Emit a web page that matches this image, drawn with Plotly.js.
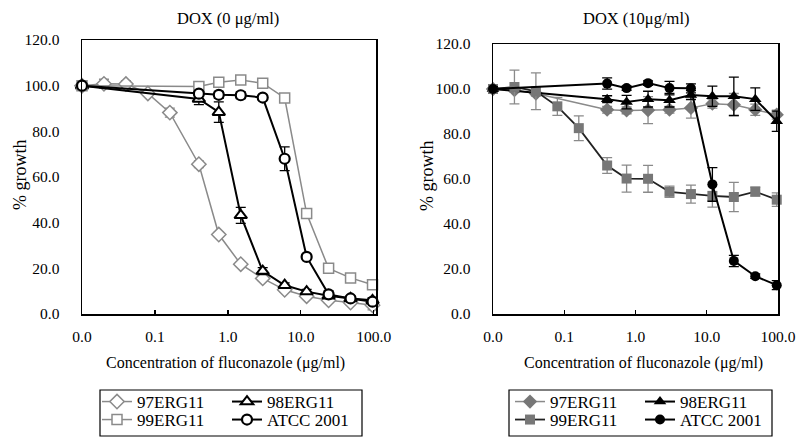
<!DOCTYPE html>
<html>
<head>
<meta charset="utf-8">
<script src="https://cdn.plot.ly/plotly-3.0.1.min.js"></script>
<style>html,body{margin:0;padding:0;background:#fff;}</style>
</head>
<body>
<div id="chart" style="width:800px;height:444px;"></div>
<script>
// Concentrations (µg/ml); 0.01 stands for the 0 (no drug) point on the log axis
const concAll = [0.01, 0.02, 0.04, 0.08, 0.16, 0.4, 0.75, 1.5, 3, 6, 12, 24, 48, 96];
const concMain = [0.01, 0.4, 0.75, 1.5, 3, 6, 12, 24, 48, 96];
const conc97dox10 = [0.01, 0.02, 0.04, 0.4, 0.75, 1.5, 3, 6, 12, 24, 48, 96];

const tickVals = [0.01, 0.1, 1, 10, 100];
const tickText = ['0.0', '0.1', '1.0', '10.0', '100.0'];
const seriesNames = ['97ERG11', '98ERG11', '99ERG11', 'ATCC 2001'];

// DOX 0 µg/ml
const d0_97 = [100, 100.8, 100.7, 96.6, 88.2, 65.6, 34.8, 21.8, 15.6, 10.6, 7.8, 6.0, 5.0, 3.8];
const d0_97err = [1, 2, 1.5, 1, 2, 1.5, 1, 1, 1, 1, 1, 1, 1, 2];
const d0_98 = [100, 94.2, 88.4, 43.2, 18.8, 12.6, 9.8, 8.0, 6.8, 6.0];
const d0_98err = [1, 2.5, 4.5, 3.5, 1.5, 1, 1, 1, 1, 1];
const d0_99 = [100, 99.6, 101.5, 102.5, 101.1, 94.6, 44.0, 20.0, 15.8, 12.8];
const d0_99err = [1, 1, 1, 1, 1, 1, 1, 1, 1, 1];
const d0_atcc = [100, 96.5, 96.0, 95.8, 94.8, 68.0, 25.0, 8.6, 6.8, 5.4];
const d0_atccErr = [1, 1, 1.5, 1.5, 1, 5.2, 1, 1.5, 1, 1];

// DOX 10 µg/ml
const d10_97 = [100, 99.5, 98.0, 90.8, 90.5, 90.6, 90.8, 91.6, 93.5, 93.0, 90.8, 88.6];
const d10_97err = [1, 1, 1, 1.5, 1.5, 6, 1.5, 4.5, 2, 5, 2.5, 2];
const d10_98 = [100, 95.5, 94.2, 95.5, 95.0, 97.3, 96.8, 96.8, 95.5, 85.7];
const d10_98err = [1, 1.5, 3, 3.5, 3, 2, 4.5, 8.5, 5, 4.5];
const d10_99 = [100, 100.9, 99.0, 92.3, 82.6, 66.0, 60.2, 60.1, 54.3, 53.3, 52.5, 52.0, 54.4, 50.8];
const d10_99err = [1, 7.5, 8.2, 4, 5.5, 3.5, 6, 6, 2.5, 4, 5, 6.5, 2, 3];
const d10_atcc = [100, 102.4, 100.4, 102.6, 100.4, 100.3, 57.6, 23.6, 16.8, 12.8];
const d10_atccErr = [1, 2.5, 1, 1, 3, 2, 7.5, 2.5, 1, 2];

const FONT = '"Liberation Serif", "Times New Roman", serif';
const GRAY = '#8a8a8a';
const GRAY2 = '#777777';

function tr(x, y, err, name, xa, ya, lineColor, lineW, symbol, mSize, mColor, mLineColor, mLineW, errColor, legendId) {
  return {
    type: 'scatter', mode: 'lines+markers', x: x, y: y, name: name,
    xaxis: xa, yaxis: ya, legend: legendId, cliponaxis: false,
    line: {color: lineColor, width: lineW},
    marker: {symbol: symbol, size: mSize, color: mColor, line: {color: mLineColor, width: mLineW}},
    error_y: {type: 'data', array: err, visible: true, color: errColor, thickness: 1.3, width: 5}
  };
}

const traces = [
  tr(concAll, d0_97, d0_97err, seriesNames[0], 'x', 'y', GRAY, 1.5, 'diamond', 11, '#fff', GRAY, 1.5, GRAY, 'legend'),
  tr(concMain, d0_98, d0_98err, seriesNames[1], 'x', 'y', '#000', 2, 'triangle-up', 11, '#fff', '#000', 2, '#000', 'legend2'),
  tr(concMain, d0_99, d0_99err, seriesNames[2], 'x', 'y', GRAY, 1.5, 'square', 10, '#fff', GRAY, 1.5, GRAY, 'legend3'),
  tr(concMain, d0_atcc, d0_atccErr, seriesNames[3], 'x', 'y', '#000', 2, 'circle', 10, '#fff', '#000', 2.2, '#000', 'legend4'),
  tr(conc97dox10, d10_97, d10_97err, seriesNames[0], 'x2', 'y2', GRAY, 1.5, 'diamond', 11, GRAY2, GRAY2, 0, GRAY, 'legend5'),
  tr(concMain, d10_98, d10_98err, seriesNames[1], 'x2', 'y2', '#000', 2, 'triangle-up', 11, '#000', '#000', 0, '#000', 'legend6'),
  tr(concAll, d10_99, d10_99err, seriesNames[2], 'x2', 'y2', '#222', 1.8, 'square', 10, GRAY2, GRAY2, 0, GRAY, 'legend7'),
  tr(concMain, d10_atcc, d10_atccErr, seriesNames[3], 'x2', 'y2', '#000', 2, 'circle', 10, '#000', '#000', 0, '#000', 'legend8')
];

const W = 800, H = 444;
const px = v => v / W;
const py = v => 1 - v / H;

function xAxis(d0, d1, r1, anchor) {
  return {
    type: 'log', domain: [px(d0), px(d1)], range: [-2, r1], anchor: anchor,
    tickvals: tickVals, ticktext: tickText, ticks: 'inside', ticklen: 4, tickwidth: 1.2, tickcolor: '#000',
    showline: true, mirror: true, linecolor: '#000', linewidth: 1.5,
    showgrid: false, zeroline: false, ticklabelstandoff: 8,
    tickfont: {family: FONT, size: 15.5, color: '#000'}
  };
}
function yAxis(top, anchor) {
  return {
    domain: [py(314), py(top)], range: [0, 120], dtick: 20, tick0: 0, tickformat: '.1f', anchor: anchor,
    ticks: '', showline: true, mirror: true, linecolor: '#000', linewidth: 1.5,
    showgrid: false, zeroline: false, ticklabelstandoff: 18,
    tickfont: {family: FONT, size: 15.5, color: '#000'}
  };
}

function leg(xp, yp) {
  return {x: px(xp), y: py(yp), xanchor: 'left', yanchor: 'middle', bgcolor: 'rgba(0,0,0,0)',
    borderwidth: 0, font: {family: FONT, size: 17, color: '#000'}, itemclick: false};
}

function ann(text, x, y, size, angle) {
  return {text: text, x: px(x), y: py(y), xref: 'paper', yref: 'paper', xanchor: 'center', yanchor: 'middle',
    showarrow: false, textangle: angle || 0, font: {family: FONT, size: size, color: '#000'}};
}

const layout = {
  width: W, height: H,
  margin: {l: 0, r: 0, t: 0, b: 0},
  paper_bgcolor: '#fff', plot_bgcolor: '#fff',
  font: {family: FONT, color: '#000', size: 15},
  showlegend: true,
  xaxis: xAxis(82, 376, 2.03, 'y'),
  yaxis: yAxis(40, 'x'),
  xaxis2: xAxis(493, 778, 2.0, 'y2'),
  yaxis2: yAxis(44, 'x2'),
  legend: leg(97, 402),
  legend2: leg(227, 402),
  legend3: leg(97, 420),
  legend4: leg(227, 420),
  legend5: leg(510, 402),
  legend6: leg(640, 402),
  legend7: leg(510, 420),
  legend8: leg(640, 420),
  shapes: [
    {type: 'rect', xref: 'paper', yref: 'paper', x0: px(100), x1: px(362), y0: py(436), y1: py(390), line: {color: '#000', width: 1.2}},
    {type: 'rect', xref: 'paper', yref: 'paper', x0: px(509), x1: px(772), y0: py(436), y1: py(390), line: {color: '#000', width: 1.2}}
  ],
  annotations: [
    ann('DOX (0 μg/ml)', 228, 18, 16.5),
    ann('DOX (10μg/ml)', 636, 18, 16.5),
    ann('% growth', 20, 175, 18, -90),
    ann('% growth', 427, 175, 18, -90),
    ann('Concentration of fluconazole (μg/ml)', 226, 363, 16),
    ann('Concentration of fluconazole (μg/ml)', 643, 363, 16)
  ]
};

Plotly.newPlot('chart', traces, layout, {displayModeBar: false, staticPlot: true});
</script>
</body>
</html>
